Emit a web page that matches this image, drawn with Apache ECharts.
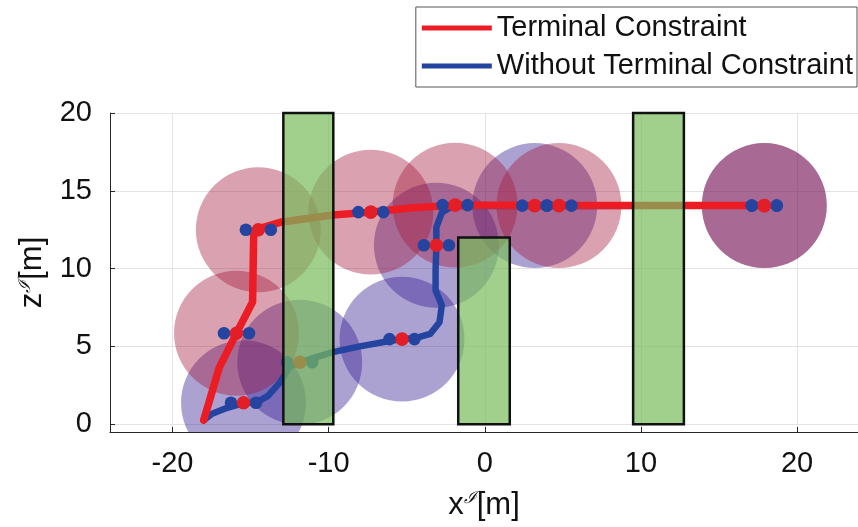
<!DOCTYPE html>
<html>
<head>
<meta charset="utf-8">
<script src="https://cdn.jsdelivr.net/npm/echarts@6/dist/echarts.min.js"></script>
<style>
html, body { margin: 0; padding: 0; background: #fff; }
#chart { width: 858px; height: 527px; }
</style>
</head>
<body>
<div id="chart"></div>
<script>
// trajectory with terminal constraint  [x, z]
var terminalPath = [
    [-18.0, 0.26], [-17.0, 3.65], [-15.9, 5.85], [-14.87, 7.85], [-14.8, 12.15],
    [-14.5, 12.55], [-13.0, 13.0], [-9.74, 13.45], [-7.3, 13.63], [-4.8, 13.9],
    [-1.9, 14.08], [3.5, 14.06], [10.0, 14.05], [17.9, 14.05]
];
// trajectory without terminal constraint  [x, z]
var freePath = [
    [-18.0, 0.26], [-17.5, 0.65], [-16.65, 1.0], [-15.45, 1.35], [-14.6, 1.42],
    [-13.9, 1.8], [-13.1, 2.7], [-12.5, 3.7], [-11.85, 3.98], [-11.0, 4.25],
    [-9.74, 4.63], [-8.0, 5.0], [-6.1, 5.35], [-5.3, 5.47], [-4.5, 5.52],
    [-3.5, 5.8], [-2.9, 6.55], [-2.75, 7.65], [-3.15, 8.6], [-3.15, 9.9],
    [-3.1, 11.5], [-3.1, 12.65], [-2.75, 13.6], [-2.1, 14.0], [-1.0, 14.03],
    [6.0, 14.02], [17.9, 14.05]
];
// vehicle poses along each path (also centres of the safety circles)
var terminalPoses = [[-15.9, 5.85], [-14.5, 12.5], [-7.3, 13.63], [-1.9, 14.08], [4.75, 14.05], [17.9, 14.05]];
var freePoses = [[-15.45, 1.38], [-11.85, 3.98], [-5.3, 5.47], [-3.1, 11.5], [3.2, 14.05], [17.9, 14.05]];
var safetyRadius = 4;
var rotorOffset = 0.8;
// obstacles [xmin, xmax, zmin, zmax]
var obstacles = [[-12.9, -9.7, 0, 20], [-1.7, 1.6, 0, 12], [9.5, 12.75, 0, 20]];

var FONT = 'Liberation Sans, Arial, sans-serif';
var chart = echarts.init(document.getElementById('chart'));

function circleItem(fill) {
    return function (params, api) {
        var c = api.coord([api.value(0), api.value(1)]);
        var r = api.size([safetyRadius, 0])[0];
        return { type: 'circle', shape: { cx: c[0], cy: c[1], r: r }, style: { fill: fill } };
    };
}

function poseItem(params, api) {
    var x = api.value(0), y = api.value(1);
    var l = api.coord([x - rotorOffset, y]);
    var c = api.coord([x, y]);
    var r = api.coord([x + rotorOffset, y]);
    return {
        type: 'group',
        children: [
            { type: 'line', shape: { x1: l[0], y1: l[1], x2: r[0], y2: r[1] }, style: { stroke: '#111', lineWidth: 3 } },
            { type: 'circle', shape: { cx: l[0], cy: l[1], r: 6.3 }, style: { fill: '#2444a0' } },
            { type: 'circle', shape: { cx: r[0], cy: r[1], r: 6.3 }, style: { fill: '#2444a0' } },
            { type: 'circle', shape: { cx: c[0], cy: c[1], r: 6.8 }, style: { fill: '#e31e27' } }
        ]
    };
}

function obstacleItem(params, api) {
    var p0 = api.coord([api.value(0), api.value(3)]);
    var p1 = api.coord([api.value(1), api.value(2)]);
    return {
        type: 'rect',
        shape: { x: p0[0], y: p0[1], width: p1[0] - p0[0], height: p1[1] - p0[1] },
        style: { fill: 'rgba(119,188,91,0.7)', stroke: '#111', lineWidth: 2.5 }
    };
}

var nameRich = {
    t: { fontSize: 31, fontFamily: FONT, color: '#111' },
    s: { fontSize: 17, fontFamily: 'DejaVu Serif', fontStyle: 'italic', color: '#111', verticalAlign: 'top' }
};

var option = {
    animation: false,
    backgroundColor: '#fff',
    grid: { left: 110, right: 0, top: 113, bottom: 95, containLabel: false, outerBoundsMode: 'none' },
    legend: {
        data: ['Terminal Constraint', 'Without Terminal Constraint'],
        orient: 'vertical',
        right: 1,
        top: 7,
        icon: 'rect',
        itemWidth: 70,
        itemHeight: 5,
        itemGap: 0,
        padding: [2, 4, 2, 6],
        backgroundColor: '#fff',
        borderColor: '#555',
        borderWidth: 1,
        selectedMode: false,
        textStyle: { fontSize: 29, fontFamily: FONT, color: '#111', lineHeight: 38 }
    },
    xAxis: {
        type: 'value',
        min: -24,
        max: 23.9,
        name: '{t|x}{s|ℐ}{t|[m]}',
        nameLocation: 'middle',
        nameGap: 58,
        nameTextStyle: { rich: nameRich },
        axisLine: { onZero: false, lineStyle: { color: '#262626', width: 1 } },
        axisTick: { inside: true, length: 5, lineStyle: { color: '#262626' } },
        axisLabel: { fontSize: 29, fontFamily: FONT, color: '#111', margin: 17, showMinLabel: false, showMaxLabel: false },
        splitLine: { show: true, lineStyle: { color: '#e3e3e3', width: 1 } }
    },
    yAxis: {
        type: 'value',
        min: -0.5,
        max: 20,
        name: '{t|z}{s|ℐ}{t|[m]}',
        nameLocation: 'middle',
        nameGap: 62,
        nameTextStyle: { rich: nameRich },
        axisLine: { show: true, onZero: false, lineStyle: { color: '#262626', width: 1 } },
        axisTick: { show: true, inside: true, length: 5, lineStyle: { color: '#262626' } },
        axisLabel: { fontSize: 29, fontFamily: FONT, color: '#111', margin: 18, showMinLabel: false },
        splitLine: { show: true, lineStyle: { color: '#e3e3e3', width: 1 } }
    },
    series: [
        {
            name: 'free circles', type: 'custom', clip: true, z: 1,
            renderItem: circleItem('rgba(47,22,142,0.4)'),
            encode: { x: 0, y: 1 },
            data: freePoses
        },
        {
            name: 'terminal circles', type: 'custom', clip: true, z: 2,
            renderItem: circleItem('rgba(162,22,57,0.4)'),
            encode: { x: 0, y: 1 },
            data: terminalPoses
        },
        {
            name: 'Without Terminal Constraint', type: 'line', z: 3,
            color: '#2444a0', symbol: 'none', smooth: false,
            lineStyle: { width: 6.5, color: '#2444a0', cap: 'round', join: 'round' },
            data: freePath
        },
        {
            name: 'Terminal Constraint', type: 'line', z: 4,
            color: '#ec1c24', symbol: 'none', smooth: false,
            lineStyle: { width: 7.5, color: '#ec1c24', cap: 'round', join: 'round' },
            data: terminalPath
        },
        {
            name: 'free poses', type: 'custom', z: 5,
            renderItem: poseItem, encode: { x: 0, y: 1 },
            data: freePoses
        },
        {
            name: 'terminal poses', type: 'custom', z: 5,
            renderItem: poseItem, encode: { x: 0, y: 1 },
            data: terminalPoses
        },
        {
            name: 'obstacles', type: 'custom', z: 6,
            renderItem: obstacleItem,
            encode: { x: [0, 1], y: [2, 3] },
            data: obstacles
        }
    ]
};

chart.setOption(option);
</script>
</body>
</html>
